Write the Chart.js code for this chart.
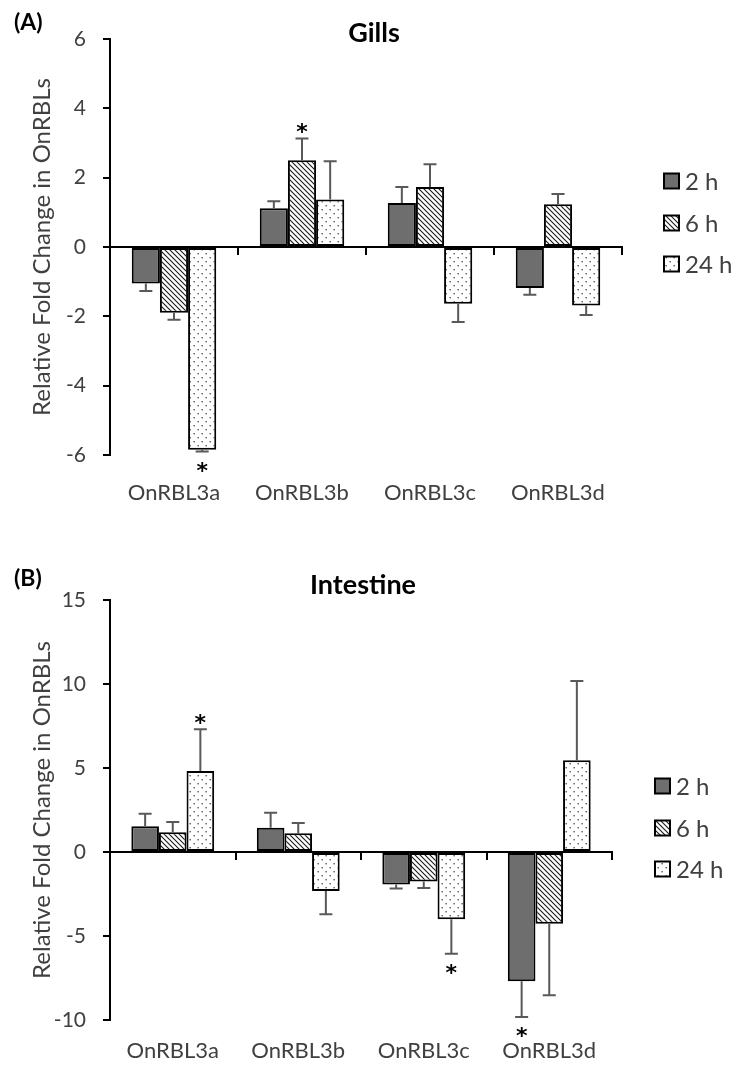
<!DOCTYPE html>
<html>
<head>
<meta charset="utf-8">
<script src="https://cdn.jsdelivr.net/npm/chart.js@4.4.1/dist/chart.umd.min.js"></script>
<style>
  body { margin: 0; background: #fff; }
  canvas.panel { position: absolute; left: 0; display: block; }
</style>
</head>
<body>
<canvas id="gillsChart" class="panel" width="734" height="530" style="top:0"></canvas>
<canvas id="intestineChart" class="panel" width="734" height="540" style="top:530px"></canvas>
<script>
// genes on the x axis, sampling times as series
const groups = ['OnRBL3a', 'OnRBL3b', 'OnRBL3c', 'OnRBL3d'];
const timeLabels = ['2 h', '6 h', '24 h'];

// Gills: mean relative fold change, SE (one-sided), significance
const gills2h = [-1.05, 1.12, 1.27, -1.18];
const gills6h = [-1.9, 2.5, 1.73, 1.23];
const gills24h = [-5.85, 1.37, -1.64, -1.69];
const gillsErr2h = [0.22, 0.2, 0.46, 0.2];
const gillsErr6h = [0.2, 0.63, 0.66, 0.3];
const gillsErr24h = [0.05, 1.1, 0.52, 0.27];
const gillsSig2h = [false, false, false, false];
const gillsSig6h = [false, true, false, false];
const gillsSig24h = [true, false, false, false];
const gillsTicks = [-6, -4, -2, 0, 2, 4, 6];

// Intestine
const intestine2h = [1.53, 1.45, -1.94, -7.7];
const intestine6h = [1.17, 1.11, -1.75, -4.27];
const intestine24h = [4.82, -2.32, -4.01, 5.46];
const intestineErr2h = [0.75, 0.89, 0.24, 2.12];
const intestineErr6h = [0.62, 0.62, 0.39, 4.26];
const intestineErr24h = [2.48, 1.39, 2.04, 4.72];
const intestineSig2h = [false, false, false, true];
const intestineSig6h = [false, false, false, false];
const intestineSig24h = [true, false, true, false];
const intestineTicks = [-10, -5, 0, 5, 10, 15];

const FONT = 'Lato';
const TEXT = '#404040';

function tile(size, paint) {
  const c = document.createElement('canvas');
  c.width = size; c.height = size;
  const g = c.getContext('2d');
  g.fillStyle = '#fff';
  g.fillRect(0, 0, size, size);
  paint(g);
  return g.createPattern(c, 'repeat');
}

const hatchFill = tile(5, g => {
  g.strokeStyle = '#1a1a1a';
  g.lineWidth = 1.1;
  g.beginPath();
  g.moveTo(-1, -1); g.lineTo(6, 6);
  g.moveTo(-1, 4); g.lineTo(1, 6);
  g.moveTo(4, -1); g.lineTo(6, 1);
  g.stroke();
});

const dotFill = tile(8, g => {
  g.fillStyle = '#555';
  g.fillRect(1.5, 1, 1.4, 1.4);
  g.fillRect(5.5, 5, 1.4, 1.4);
});

const fills = ['#6e6e6e', hatchFill, dotFill];
const legendOffsets = [-66, -24, 17];

// error bars, asterisks, title, panel tag and legend
const panelDecor = {
  id: 'panelDecor',
  afterDatasetsDraw(chart) {
    const ctx = chart.ctx;
    const y = chart.scales.y;
    ctx.save();
    chart.data.datasets.forEach((ds, i) => {
      const meta = chart.getDatasetMeta(i);
      meta.data.forEach((bar, j) => {
        const v = ds.data[j];
        const dir = v < 0 ? -1 : 1;
        const end = y.getPixelForValue(v + dir * ds.errors[j]);
        ctx.strokeStyle = '#595959';
        ctx.lineWidth = 2;
        ctx.beginPath();
        ctx.moveTo(bar.x, bar.y);
        ctx.lineTo(bar.x, end);
        ctx.moveTo(bar.x - 6.5, end);
        ctx.lineTo(bar.x + 6.5, end);
        ctx.stroke();
        if (ds.stars[j]) {
          ctx.fillStyle = '#000';
          ctx.font = 'bold 22px "DejaVu Sans"';
          ctx.textAlign = 'center';
          ctx.textBaseline = 'alphabetic';
          const cy = dir > 0 ? end - 12 : end + 13;
          ctx.fillText('*', bar.x, cy + 13);
        }
      });
    });
    ctx.restore();
  },
  afterDraw(chart, args, o) {
    const ctx = chart.ctx;
    const zero = chart.scales.y.getPixelForValue(0);
    ctx.save();
    ctx.fillStyle = '#000';
    ctx.textBaseline = 'middle';
    ctx.textAlign = 'center';
    ctx.font = 'bold 27px ' + FONT;
    ctx.fillText(o.title, o.titleX, o.titleY);
    ctx.textAlign = 'left';
    ctx.font = 'bold 23px ' + FONT;
    ctx.fillText(o.tag, 14, o.tagY);

    ctx.font = '24px ' + FONT;
    chart.data.datasets.forEach((ds, i) => {
      const cy = zero + legendOffsets[i];
      ctx.fillStyle = ds.backgroundColor;
      ctx.fillRect(o.legendX, cy - 7.5, 15, 15);
      ctx.strokeStyle = '#000';
      ctx.lineWidth = 2;
      ctx.strokeRect(o.legendX, cy - 7.5, 15, 15);
      ctx.fillStyle = TEXT;
      ctx.fillText(ds.label, o.legendX + 21, cy + 1);
    });
    ctx.restore();
  }
};

function buildChart(id, cfg) {
  const datasets = cfg.values.map((vals, i) => ({
    label: timeLabels[i],
    data: vals,
    errors: cfg.errors[i],
    stars: cfg.stars[i],
    backgroundColor: fills[i],
    borderColor: '#000',
    borderWidth: 2,
    borderSkipped: false,
    barPercentage: 1,
    categoryPercentage: 0.66
  }));

  return new Chart(document.getElementById(id), {
    type: 'bar',
    data: { labels: groups, datasets },
    options: {
      responsive: false,
      animation: false,
      devicePixelRatio: 1,
      layout: { padding: { top: cfg.top, left: 24, right: 734 - cfg.right, bottom: 0 } },
      plugins: {
        legend: { display: false },
        tooltip: { enabled: false },
        panelDecor: cfg.decor
      },
      scales: {
        x: {
          type: 'category',
          position: { y: 0 },
          offset: true,
          grid: { offset: true, drawOnChartArea: false, tickLength: 7, color: '#000', lineWidth: 2 },
          border: { color: '#000', width: 2 },
          ticks: { display: false }
        },
        names: {
          type: 'category',
          position: 'bottom',
          offset: true,
          grid: { display: false, drawTicks: false },
          border: { display: false },
          ticks: { padding: cfg.labelPad, maxRotation: 0, color: TEXT, font: { family: FONT, size: 22 } },
          afterFit: s => { s.height = cfg.height - cfg.bottom; }
        },
        y: {
          min: cfg.ticks[0],
          max: cfg.ticks[cfg.ticks.length - 1],
          afterBuildTicks: s => { s.ticks = cfg.ticks.map(v => ({ value: v })); },
          ticks: { padding: 17, color: TEXT, font: { family: FONT, size: 21 } },
          grid: { drawOnChartArea: false, tickLength: 7, color: '#000', lineWidth: 2 },
          border: { color: '#000', width: 2 },
          title: {
            display: true,
            text: 'Relative Fold Change in OnRBLs',
            color: TEXT,
            font: { family: FONT, size: 24 },
            padding: { top: 4, bottom: 0 }
          },
          afterFit: s => { s.width = 86; }
        }
      }
    },
    plugins: [panelDecor]
  });
}

buildChart('gillsChart', {
  values: [gills2h, gills6h, gills24h],
  errors: [gillsErr2h, gillsErr6h, gillsErr24h],
  stars: [gillsSig2h, gillsSig6h, gillsSig24h],
  ticks: gillsTicks,
  height: 530, top: 39, bottom: 455, right: 622, labelPad: 25,
  decor: { title: 'Gills', titleX: 374, titleY: 33, tag: '(A)', tagY: 23, legendX: 664 }
});

buildChart('intestineChart', {
  values: [intestine2h, intestine6h, intestine24h],
  errors: [intestineErr2h, intestineErr6h, intestineErr24h],
  stars: [intestineSig2h, intestineSig6h, intestineSig24h],
  ticks: intestineTicks,
  height: 540, top: 70, bottom: 490, right: 612, labelPad: 18,
  decor: { title: 'Intestine', titleX: 363, titleY: 55, tag: '(B)', tagY: 49, legendX: 655 }
});
</script>
</body>
</html>
